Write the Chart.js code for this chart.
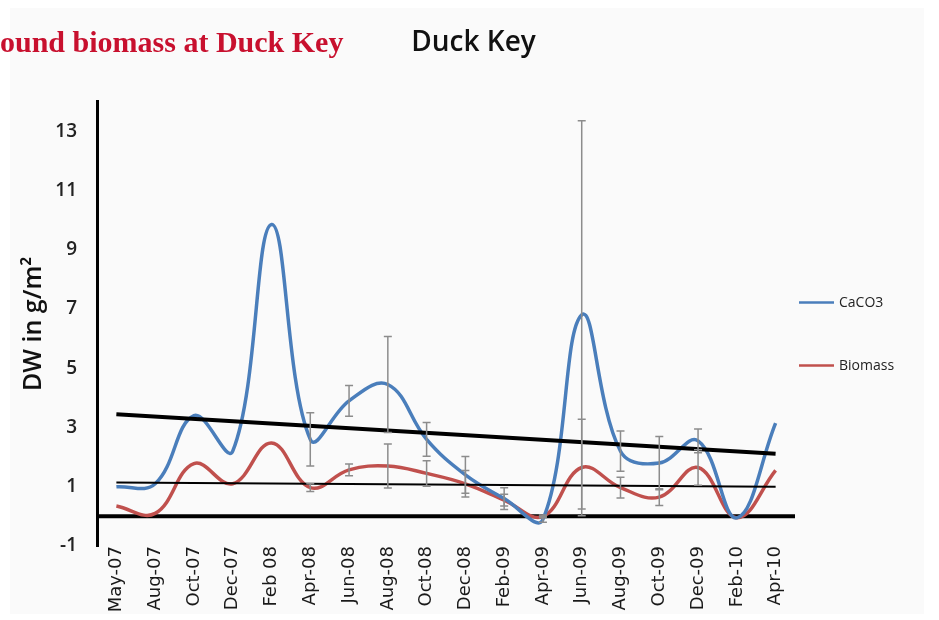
<!DOCTYPE html>
<html>
<head>
<meta charset="utf-8">
<script src="https://cdn.jsdelivr.net/npm/chart.js@4.4.1/dist/chart.umd.min.js"></script>
<style>
  html, body { margin: 0; padding: 0; background: #fff; }
  #wrap { position: relative; width: 939px; height: 620px; overflow: hidden; }
  #panel { position: absolute; left: 10px; top: 8px; width: 914px; height: 606px; background: #fafafa; }
  #chart { position: absolute; left: 0; top: 0; }
  #caption { position: absolute; left: 0; top: 27px; font: bold 30px "Liberation Serif", serif; color: #c8102e; line-height: 1; white-space: nowrap; }
</style>
</head>
<body>
<div id="wrap">
  <div id="panel"></div>
  <canvas id="chart" width="939" height="620"></canvas>
  <div id="caption">ound biomass at Duck Key</div>
</div>
<script>
const categories = ['May-07', 'Aug-07', 'Oct-07', 'Dec-07', 'Feb 08', 'Apr-08', 'Jun-08', 'Aug-08', 'Oct-08',
  'Dec-08', 'Feb-09', 'Apr-09', 'Jun-09', 'Aug-09', 'Oct-09', 'Dec-09', 'Feb-10', 'Apr-10'];

const caco3 = [1.0, 1.1, 3.4, 2.2, 9.85, 2.6, 3.9, 4.45, 2.6, 1.4, 0.6, -0.1, 6.8, 2.2, 1.8, 2.55, -0.05, 3.15];
const caco3Err = [null, null, null, null, null, 0.9, 0.52, 1.62, 0.57, 0.62, 0.37, 0.1, 6.55, 0.68, 0.9, 0.4, null, null];

const biomass = [0.35, 0.1, 1.78, 1.1, 2.48, 0.97, 1.57, 1.7, 1.45, 1.1, 0.55, 0.0, 1.65, 0.97, 0.65, 1.65, -0.05, 1.55];
const biomassErr = [null, null, null, null, null, 0.13, 0.2, 0.74, 0.43, 0.45, 0.2, 0.05, 1.63, 0.35, 0.28, 0.6, null, null];

// linear trendline end values
const caco3TrendEnds = [3.45, 2.11];
const biomassTrendEnds = [1.14, 1.0];

const yTicks = [-1, 1, 3, 5, 7, 9, 11, 13];

const BLUE = '#4a7ebb';
const RED = '#c0504d';
const FONT = 'Open Sans';

const trend = ends => categories.map((c, i) => (i === 0 ? ends[0] : i === categories.length - 1 ? ends[1] : null));

// thick line at y = 0
const zeroLine = {
  id: 'zeroLine',
  beforeDatasetsDraw(chart) {
    const { ctx, chartArea, scales } = chart;
    const y = scales.y.getPixelForValue(0);
    ctx.save();
    ctx.strokeStyle = '#000';
    ctx.lineWidth = 4;
    ctx.beginPath();
    ctx.moveTo(chartArea.left, y);
    ctx.lineTo(chartArea.right, y);
    ctx.stroke();
    ctx.restore();
  },
};

const errorBars = {
  id: 'errorBars',
  afterDatasetsDraw(chart) {
    const { ctx, scales } = chart;
    ctx.save();
    ctx.strokeStyle = '#8c8c8c';
    ctx.lineWidth = 1.5;
    chart.data.datasets.forEach((ds) => {
      if (!ds.errorBars) return;
      ds.errorBars.forEach((err, i) => {
        if (err == null) return;
        const x = scales.x.getPixelForValue(i);
        const top = scales.y.getPixelForValue(ds.data[i] + err);
        const bot = scales.y.getPixelForValue(ds.data[i] - err);
        ctx.beginPath();
        ctx.moveTo(x, top); ctx.lineTo(x, bot);
        ctx.moveTo(x - 4, top); ctx.lineTo(x + 4, top);
        ctx.moveTo(x - 4, bot); ctx.lineTo(x + 4, bot);
        ctx.stroke();
      });
    });
    ctx.restore();
  },
};

// legend to the right of the plot, lines + labels
const sideLegend = {
  id: 'sideLegend',
  afterDraw(chart) {
    const { ctx, chartArea } = chart;
    const items = chart.data.datasets.filter(ds => ds.inLegend);
    const x0 = chartArea.right + 4;
    ctx.save();
    ctx.font = `14px "${FONT}"`;
    ctx.textBaseline = 'middle';
    ctx.fillStyle = '#222';
    items.forEach((ds, i) => {
      const y = chartArea.top + 201 + i * 63;
      ctx.strokeStyle = ds.borderColor;
      ctx.lineWidth = 2.5;
      ctx.beginPath();
      ctx.moveTo(x0, y);
      ctx.lineTo(x0 + 35, y);
      ctx.stroke();
      ctx.fillText(ds.label, x0 + 40, y);
    });
    ctx.restore();
  },
};

new Chart(document.getElementById('chart'), {
  type: 'line',
  data: {
    labels: categories,
    datasets: [
      { label: 'CaCO3 trend', data: trend(caco3TrendEnds), borderColor: '#000', borderWidth: 4, spanGaps: true, tension: 0, pointRadius: 0, order: 1 },
      { label: 'Biomass trend', data: trend(biomassTrendEnds), borderColor: '#000', borderWidth: 2, spanGaps: true, tension: 0, pointRadius: 0, order: 1 },
      { label: 'CaCO3', data: caco3, errorBars: caco3Err, inLegend: true, borderColor: BLUE, backgroundColor: BLUE, borderWidth: 3.5, tension: 0.4, pointRadius: 0, order: 2 },
      { label: 'Biomass', data: biomass, errorBars: biomassErr, inLegend: true, borderColor: RED, backgroundColor: RED, borderWidth: 3.5, tension: 0.4, pointRadius: 0, order: 2 },
    ],
  },
  options: {
    responsive: false,
    animation: false,
    layout: { padding: { left: 8, right: 0, top: 0, bottom: 0 } },
    plugins: {
      legend: { display: false },
      tooltip: { enabled: false },
      title: {
        display: true,
        text: 'Duck Key',
        color: '#111',
        font: { family: FONT, size: 28, weight: '600' },
        padding: { top: 26, bottom: 42 },
      },
    },
    scales: {
      x: {
        offset: true,
        grid: { display: false, drawTicks: false },
        border: { display: false },
        afterFit: (scale) => { scale.height = 74; },
        ticks: {
          autoSkip: false,
          minRotation: 90,
          maxRotation: 90,
          padding: 0,
          color: '#1a1a1a',
          font: { family: 'DejaVu Sans', size: 18 },
        },
      },
      y: {
        min: -1,
        max: 14,
        afterBuildTicks: (scale) => { scale.ticks = yTicks.map(v => ({ value: v })); },
        afterFit: (scale) => { scale.width = 89; },
        grid: { display: false, drawTicks: false },
        border: { color: '#000', width: 3 },
        ticks: { padding: 20, color: '#222', font: { family: FONT, size: 19, weight: '600' } },
        title: {
          display: true,
          text: 'DW in g/m²',
          color: '#111',
          font: { family: FONT, size: 25, weight: '600' },
          padding: { top: 11, bottom: 4 },
        },
      },
      // empty box on the right that leaves room for the legend
      side: {
        position: 'right',
        grid: { display: false, drawTicks: false },
        border: { display: false },
        ticks: { display: false },
        afterFit: (scale) => { scale.width = 144; },
      },
    },
  },
  plugins: [zeroLine, errorBars, sideLegend],
});
</script>
</body>
</html>
